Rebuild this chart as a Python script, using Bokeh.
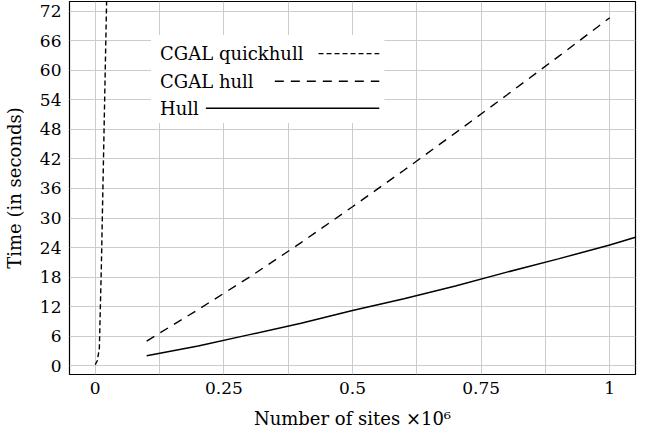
from bokeh.plotting import figure
from bokeh.models import Range1d, FixedTicker, BoxAnnotation, Label, Arrow
from bokeh.embed import file_html
from bokeh.resources import INLINE

# ---- data (millions of sites, seconds) ----
quickhull_x = [0.0, 0.004, 0.008, 0.012, 0.016, 0.020, 0.024]
quickhull_y = [0.2, 1.0, 3.5, 20.5, 41.7, 62.9, 84.0]

cgal_hull_x = [0.1, 0.2, 0.3, 0.4, 0.5, 0.6, 0.7, 0.8, 0.9, 1.0]
cgal_hull_y = [5.0, 11.4, 18.0, 25.0, 32.3, 39.7, 47.3, 55.0, 62.8, 70.7]

hull_x = [0.1, 0.2, 0.3, 0.4, 0.5, 0.6, 0.7, 0.8, 0.9, 1.0, 1.05]
hull_y = [2.0, 4.0, 6.3, 8.6, 11.2, 13.6, 16.2, 19.0, 21.7, 24.5, 26.1]

x_ticks = [0, 0.25, 0.5, 0.75, 1]
x_minor = [0.125, 0.375, 0.625, 0.875]
y_ticks = [0, 6, 12, 18, 24, 30, 36, 42, 48, 54, 60, 66, 72]

series_names = ["CGAL quickhull", "CGAL hull", "Hull"]

FONT = "DejaVu Serif"
GRID = "#cccccc"

p = figure(width=641, height=432, output_backend="svg", toolbar_location=None,
           x_range=Range1d(-0.05, 1.05), y_range=Range1d(-1.8, 74),
           min_border_left=68, min_border_right=6, min_border_top=1,
           min_border_bottom=58)

p.outline_line_color = "black"
p.outline_line_width = 1.2
p.background_fill_color = "white"

p.xaxis.ticker = FixedTicker(ticks=x_ticks, minor_ticks=x_minor)
p.yaxis.ticker = FixedTicker(ticks=y_ticks)
p.xaxis.major_label_overrides = {0: "0", 0.25: "0.25", 0.5: "0.5", 0.75: "0.75", 1: "1"}

for ax in (p.xaxis[0], p.yaxis[0]):
    ax.axis_line_color = None
    ax.major_tick_line_color = None
    ax.minor_tick_line_color = None
    ax.major_tick_out = 0
    ax.major_tick_in = 0
    ax.minor_tick_out = 0
    ax.minor_tick_in = 0
    ax.major_label_text_font = FONT
    ax.major_label_text_font_size = "17px"
    ax.major_label_text_color = "black"
    ax.axis_label_text_font = FONT
    ax.axis_label_text_font_size = "18px"
    ax.axis_label_text_font_style = "normal"
    ax.axis_label_text_color = "black"

p.xaxis.axis_label = "Number of sites ×10⁶"
p.yaxis.axis_label = "Time (in seconds)"
p.xaxis.major_label_standoff = 7
p.xaxis.axis_label_standoff = 11
p.yaxis.major_label_standoff = 8
p.yaxis.axis_label_standoff = 12

p.xgrid.grid_line_color = GRID
p.xgrid.minor_grid_line_color = GRID
p.ygrid.grid_line_color = GRID
p.xgrid.grid_line_width = 1
p.ygrid.grid_line_width = 1

p.line(quickhull_x, quickhull_y, line_color="black", line_width=1.4, line_dash="5 3")
p.line(cgal_hull_x, cgal_hull_y, line_color="black", line_width=1.4, line_dash="9 7")
p.line(hull_x, hull_y, line_color="black", line_width=1.5)

# ---- legend (text first, sample line after, as in the original) ----
p.add_layout(BoxAnnotation(left=0.1085, right=0.562, bottom=49.3, top=67.2,
                           fill_color="white", fill_alpha=1.0, line_color=None,
                           level="overlay"))
rows_y = [63.4, 57.8, 52.3]
sample_start = [0.434, 0.349, 0.215]
dashes = ["5 3", "9 7", "solid"]
for name, yy, xs, dash in zip(series_names, rows_y, sample_start, dashes):
    p.add_layout(Label(x=0.126, y=yy, text=name, text_baseline="middle",
                       text_font=FONT, text_font_size="18px", text_color="black",
                       level="overlay"))
    p.add_layout(Arrow(end=None, x_start=xs, y_start=yy, x_end=0.552, y_end=yy,
                       line_color="black", line_width=1.4, line_dash=dash,
                       level="overlay"))

open("out.html", "w").write(file_html(p, INLINE))
